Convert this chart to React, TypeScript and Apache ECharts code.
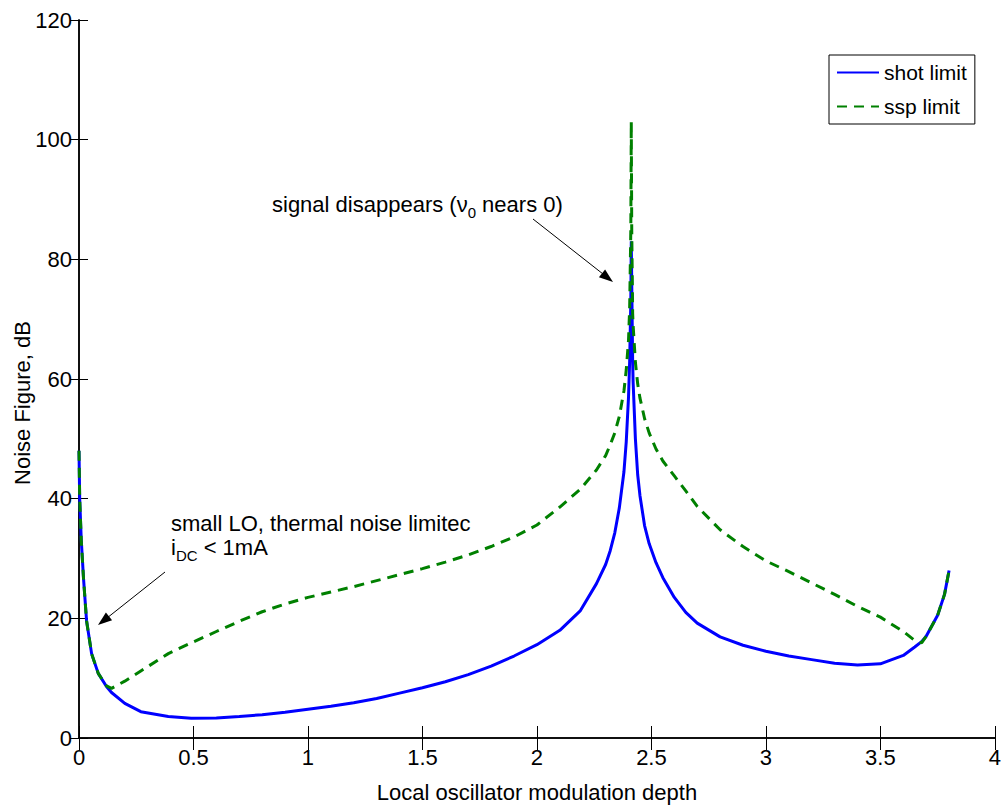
import React, { useEffect, useRef } from "react";
import * as echarts from "echarts";

const xValues = [
  0, 0.003, 0.01, 0.02, 0.033, 0.055, 0.084, 0.12, 0.142, 0.2,
  0.27, 0.39, 0.49, 0.6, 0.7, 0.8, 0.9, 1.0, 1.1, 1.2,
  1.3, 1.4, 1.5, 1.6, 1.7, 1.8, 1.9, 2.0, 2.1, 2.19,
  2.26, 2.3, 2.32, 2.34, 2.36, 2.38, 2.39, 2.4, 2.405, 2.41,
  2.412, 2.414, 2.418, 2.42, 2.43, 2.44, 2.45, 2.47, 2.49, 2.52,
  2.55, 2.6, 2.65, 2.7, 2.8, 2.9, 3.0, 3.1, 3.2, 3.3,
  3.4, 3.5, 3.6, 3.65, 3.68, 3.7, 3.75, 3.78, 3.8,
];

const shotLimit = [
  48, 40, 33, 26.5, 19.6, 14.1, 10.8, 8.6, 7.6, 5.8,
  4.4, 3.6, 3.3, 3.35, 3.6, 3.9, 4.3, 4.8, 5.3, 5.9,
  6.6, 7.5, 8.4, 9.4, 10.6, 12, 13.7, 15.6, 18, 21.3,
  25.8, 29, 31.3, 34.3, 38.5, 44.5, 49.5, 57, 63, 73,
  83, 76, 63, 59.5, 50, 44, 40.5, 35.5, 32.5, 29.3,
  26.8, 23.5, 21, 19.2, 16.9, 15.5, 14.5, 13.7, 13.1, 12.5,
  12.2, 12.4, 13.8, 15.2, 16.1, 17, 20.5, 24, 28,
];

const sspLimit = [
  48, 40, 33, 26.5, 19.6, 14.1, 10.8, 8.7, 8.3, 9.5,
  11.2, 14.1, 15.9, 17.8, 19.5, 21.1, 22.4, 23.5, 24.4, 25.3,
  26.3, 27.3, 28.3, 29.4, 30.6, 32, 33.6, 35.6, 38.6, 41.6,
  44.8, 47.2, 49, 51, 53.8, 58, 61.5, 66.5, 72, 85,
  103, 85, 71, 69, 62.8, 59.2, 56.8, 53.4, 51, 48.3,
  46.3, 43.8, 41.3, 38.7, 34.8, 32, 29.6, 27.8, 25.9, 24,
  22, 20.2, 17.8, 16.3, 15.9, 17, 20.5, 24, 28,
];

const seriesNames = ["shot limit", "ssp limit"];
const xTitle = "Local oscillator modulation depth";
const yTitle = "Noise Figure, dB";

const FONT = "'Liberation Sans', Arial, Helvetica, sans-serif";

export default function App() {
  const ref = useRef<HTMLDivElement>(null);

  useEffect(() => {
    if (!ref.current) return;
    const chart = echarts.init(ref.current, undefined, { renderer: "svg" });

    const pairs = (ys: number[]) => xValues.map((x, i) => [x, ys[i]]);

    const axisLine = { show: true, lineStyle: { color: "#000", width: 1.5 } };
    const sub = {
      fontSize: 15,
      fontFamily: FONT,
      fill: "#000",
      verticalAlign: "top",
      lineHeight: 17,
      padding: [12, 0, 0, 0],
    };
    const main = { fontSize: 22, fontFamily: FONT, fill: "#000", verticalAlign: "top", lineHeight: 24 };

    chart.setOption({
      animation: false,
      backgroundColor: "#fff",
      textStyle: { fontFamily: FONT },
      grid: { left: 79, right: 3, top: 20, bottom: 63, containLabel: false },
      legend: {
        data: seriesNames,
        orient: "vertical",
        left: 829,
        top: 55,
        width: 147,
        backgroundColor: "#fff",
        borderColor: "#000",
        borderWidth: 1,
        borderRadius: 0,
        padding: [7, 8, 7, 7],
        itemGap: 13,
        itemWidth: 42,
        itemHeight: 14,
        itemStyle: { opacity: 0 },
        textStyle: { fontSize: 21, color: "#000", fontFamily: FONT },
      },
      xAxis: [
        {
          type: "value",
          min: 0,
          max: 4,
          interval: 0.5,
          position: "bottom",
          axisLine,
          axisTick: { show: true, inside: true, length: 12, lineStyle: { color: "#000", width: 1 } },
          axisLabel: { color: "#000", fontSize: 22, margin: 8, fontFamily: FONT },
          splitLine: { show: false },
          name: xTitle,
          nameLocation: "middle",
          nameGap: 43,
          nameTextStyle: { color: "#000", fontSize: 22, fontFamily: FONT },
        },
        {
          type: "value",
          min: 0,
          max: 4,
          interval: 0.5,
          position: "top",
          axisLine,
          axisTick: { show: true, inside: true, length: 12, lineStyle: { color: "#000", width: 1 } },
          axisLabel: { show: false },
          splitLine: { show: false },
        },
      ],
      yAxis: [
        {
          type: "value",
          min: 0,
          max: 120,
          interval: 20,
          position: "left",
          axisLine,
          axisTick: { show: true, inside: true, length: 9, lineStyle: { color: "#000", width: 1 } },
          axisLabel: { color: "#000", fontSize: 22, margin: 7, fontFamily: FONT },
          splitLine: { show: false },
        },
        {
          type: "value",
          min: 0,
          max: 120,
          interval: 20,
          position: "right",
          axisLine,
          axisTick: { show: true, inside: true, length: 9, lineStyle: { color: "#000", width: 1 } },
          axisLabel: { show: false },
          splitLine: { show: false },
        },
      ],
      series: [
        {
          name: seriesNames[0],
          type: "line",
          data: pairs(shotLimit),
          symbol: "none",
          smooth: false,
          lineStyle: { color: "#0000ff", width: 3 },
          itemStyle: { color: "#0000ff" },
          z: 2,
        },
        {
          name: seriesNames[1],
          type: "line",
          data: pairs(sspLimit),
          symbol: "none",
          smooth: false,
          lineStyle: { color: "#008000", width: 3, type: [10, 7] },
          itemStyle: { color: "#008000" },
          z: 3,
        },
      ],
      graphic: [
        {
          type: "text",
          x: 22,
          y: 403,
          rotation: Math.PI / 2,
          style: {
            text: yTitle,
            fill: "#000",
            font: `22px ${FONT}`,
            align: "center",
            verticalAlign: "middle",
          },
        },
        {
          type: "text",
          x: 272,
          y: 205,
          style: {
            text: "{a|signal disappears (ν}{s|0}{a| nears 0)}",
            rich: { a: main, s: sub },
            verticalAlign: "middle",
            align: "left",
          },
        },
        {
          type: "line",
          shape: { x1: 533, y1: 219, x2: 603, y2: 274 },
          style: { stroke: "#000", lineWidth: 1 },
        },
        {
          type: "polygon",
          shape: { points: [[613, 282], [598.9, 277.2], [605.1, 269.4]] },
          style: { fill: "#000" },
        },
        {
          type: "text",
          x: 171,
          y: 523,
          style: {
            text: "small LO, thermal noise limitec",
            font: `22px ${FONT}`,
            fill: "#000",
            verticalAlign: "middle",
            align: "left",
          },
        },
        {
          type: "text",
          x: 171,
          y: 548,
          style: {
            text: "{a|i}{s|DC}{a| < 1mA}",
            rich: { a: main, s: sub },
            verticalAlign: "middle",
            align: "left",
          },
        },
        {
          type: "line",
          shape: { x1: 165, y1: 572, x2: 107, y2: 618 },
          style: { stroke: "#000", lineWidth: 1 },
        },
        {
          type: "polygon",
          shape: { points: [[98, 625], [105.9, 612.4], [112.1, 620.2]] },
          style: { fill: "#000" },
        },
      ],
    });

    return () => {
      chart.dispose();
    };
  }, []);

  return (
    <div
      ref={ref}
      style={{ position: "fixed", left: 0, top: 0, width: 1004, height: 808, background: "#fff" }}
    />
  );
}
